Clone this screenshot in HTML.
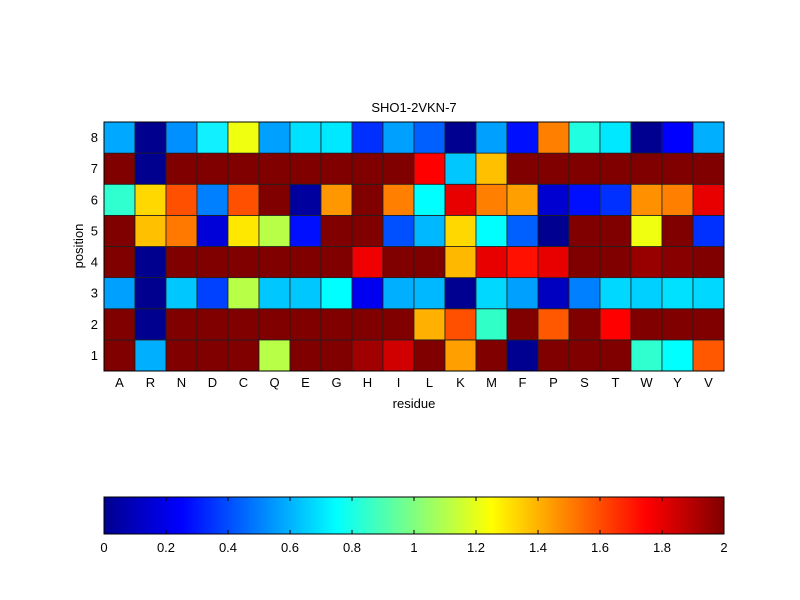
<!DOCTYPE html>
<html><head><meta charset="utf-8"><style>body{margin:0;background:#fff}svg{display:block}text{font-family:"Liberation Sans",sans-serif;font-size:13px;fill:#000}</style></head>
<body>
<svg width="800" height="600" xmlns="http://www.w3.org/2000/svg">
<defs><linearGradient id="jet" x1="0" x2="1" y1="0" y2="0">
<stop offset="0" stop-color="#00008f"/><stop offset="0.125" stop-color="#0000ff"/><stop offset="0.375" stop-color="#00ffff"/><stop offset="0.625" stop-color="#ffff00"/><stop offset="0.875" stop-color="#ff0000"/><stop offset="1" stop-color="#800000"/></linearGradient></defs>
<text x="414" y="112" text-anchor="middle">SHO1-2VKN-7</text>
<g id="grid" stroke="#202020" stroke-width="0.8"></g>
<rect x="104" y="122" width="620" height="249" fill="none" stroke="#000" stroke-width="1"/>
<g id="lab"></g>
<text x="414" y="408" text-anchor="middle">residue</text>
<text transform="translate(83,246) rotate(-90)" text-anchor="middle">position</text>
<rect x="104" y="497" width="620" height="37" fill="url(#jet)" stroke="#000" stroke-width="1"/>
<g id="cb"></g>
</svg>
<script>
var D='#800000';
var rows={
8:['#00a8ff','#00008f','#0090ff','#10f0ff','#f0ff10','#00a0ff','#00e0ff','#00e8ff','#0030ff','#00a0ff','#0060ff','#000090','#00a0ff','#0010ff','#ff8000','#20ffe0','#00e8ff','#000090','#0000ff','#00b0ff'],
7:[D,'#00008f',D,D,D,D,D,D,D,D,'#ff0000','#00c8ff','#ffc000',D,D,D,D,D,D,D],
6:['#30ffd0','#ffd800','#ff5000','#0080ff','#ff5000',D,'#00009f','#ff9800',D,'#ff8000','#00ffff','#e80000','#ff8000','#ffa000','#0000d0','#0010ff','#0030ff','#ff9000','#ff8000','#e80000'],
5:[D,'#ffc000','#ff7800','#0000d8','#ffe800','#b8ff48','#0010ff',D,D,'#0050ff','#00b8ff','#ffd800','#00ffff','#0060ff','#000090',D,D,'#f0ff10',D,'#0030ff'],
4:[D,'#00008f',D,D,D,D,D,D,'#f00000',D,D,'#ffb800','#e80000','#ff1000','#e80000',D,D,'#980000','#880000',D],
3:['#00a0ff','#00008f','#00c8ff','#0040ff','#b8ff48','#00c8ff','#00c8ff','#00ffff','#0000f0','#00b0ff','#00b8ff','#000090','#00d8ff','#00a0ff','#0000c0','#0080ff','#00d8ff','#00d0ff','#00e0ff','#00d8ff'],
2:[D,'#00008f',D,D,D,D,D,D,D,D,'#ffb000','#ff5000','#30ffc8',D,'#ff5800',D,'#ff0000',D,D,D],
1:[D,'#00b0ff',D,D,D,'#b8ff48',D,D,'#a00000','#d00000',D,'#ffa000',D,'#000090',D,D,D,'#30ffd0','#00ffff','#ff5800']};
var ns='http://www.w3.org/2000/svg',g=document.getElementById('grid'),l=document.getElementById('lab'),cb=document.getElementById('cb');
function el(t,a,p,txt){var e=document.createElementNS(ns,t);for(var k in a)e.setAttribute(k,a[k]);if(txt)e.textContent=txt;p.appendChild(e);}
var res='ARNDCQEGHILKMFPSTWYV'.split('');
for(var r=1;r<=8;r++){var y=122+(8-r)*31.125;for(var c=0;c<20;c++)el('rect',{x:104+c*31,y:y,width:31,height:31.125,fill:rows[r][c]},g);
el('text',{x:98,y:y+20,'text-anchor':'end'},l,''+r);}
res.forEach(function(s,c){el('text',{x:119.5+c*31,y:387,'text-anchor':'middle'},l,s);});
['0','0.2','0.4','0.6','0.8','1','1.2','1.4','1.6','1.8','2'].forEach(function(s,i){var x=104+i*62;el('text',{x:x,y:552,'text-anchor':'middle'},cb,s);
el('line',{x1:x,x2:x,y1:497,y2:501,stroke:'#000'},cb);el('line',{x1:x,x2:x,y1:530,y2:534,stroke:'#000'},cb);});
</script>
</body></html>
